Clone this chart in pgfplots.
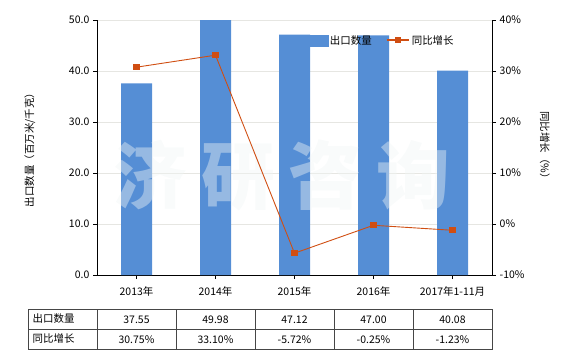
\documentclass[border=0pt]{standalone}
\usepackage{pgfplots}
\pgfplotsset{compat=1.18}
\usepackage{fontspec}
\setmainfont{Noto Sans CJK SC}
\definecolor{barblue}{RGB}{85,142,213}
\definecolor{lineor}{RGB}{208,78,18}
\definecolor{gridc}{RGB}{230,230,226}
\definecolor{tabc}{RGB}{70,70,70}
\definecolor{wmc}{RGB}{240,245,245}
\begin{document}
\fontsize{10.5}{12}\selectfont
\begin{tikzpicture}[x=1bp,y=1bp]
\useasboundingbox (0,0) rectangle (580,350);
\begin{axis}[at={(97bp,75bp)}, anchor=south west, scale only axis,
  width=395bp, height=255bp,
  xmin=-0.5, xmax=4.5, ymin=0, ymax=50,
  axis y line*=left, axis x line*=bottom,
  axis line style={black, line width=0.8bp},
  ytick={0,10,...,50},
  yticklabel style={/pgf/number format/.cd, fixed, fixed zerofill, precision=1, assume math mode=true},
  ymajorgrids, grid style={gridc, line width=0.6bp},
  xtick={0,...,4},
  xticklabels={2013年,2014年,2015年,2016年,2017年1-11月},
  xticklabel style={yshift=-4bp},
  tick align=outside, tick style={black, line width=0.8bp}, major tick length=4bp,
  ylabel={出口数量（百万米/千克）},
  ylabel style={at={(axis description cs:-0.17,0.5)}, anchor=center},
  ybar, bar width=31bp,
]
\addplot[fill=barblue, draw=none] coordinates {(0,37.55) (1,49.98) (2,47.12) (3,47.00) (4,40.08)};
\end{axis}
\node[text=wmc, text opacity=0.42, font=\fontsize{74}{74}\selectfont\bfseries] at (282,175) {济\hspace{14bp}研\hspace{14bp}咨\hspace{14bp}询};
\begin{axis}[at={(97bp,75bp)}, anchor=south west, scale only axis,
  width=395bp, height=255bp,
  xmin=-0.5, xmax=4.5, ymin=-10, ymax=40,
  axis y line*=right, axis x line=none,
  axis line style={black, line width=0.8bp},
  ytick={-10,0,...,40},
  yticklabel={\pgfmathprintnumber[assume math mode=true]{\tick}\%},
  tick align=outside, tick style={black, line width=0.8bp}, major tick length=4bp,
  ylabel={同比增长（\%）},
  ylabel style={at={(axis description cs:1.134,0.5)}, anchor=center, rotate=180},
  legend style={at={(0.52,0.92)}, anchor=west, legend columns=2, draw=none, fill=none,
    /tikz/every even column/.append style={column sep=12bp}},
]
\addlegendimage{legend image code/.code={\fill[barblue] (0bp,-5.5bp) rectangle (22bp,5.5bp);}}
\addlegendentry{出口数量}
\addplot[lineor, line width=0.9bp, mark=square*, mark size=2.6bp, mark options={fill=lineor},
  legend image code/.code={\draw[lineor, line width=2bp] (0bp,0bp) -- (22bp,0bp); \fill[lineor] (8.5bp,-2.5bp) rectangle (13.5bp,2.5bp);}]
  coordinates {(0,30.75) (1,33.10) (2,-5.72) (3,-0.25) (4,-1.23)};
\addlegendentry{同比增长}
\end{axis}
% data table
\begin{scope}[draw=tabc, line width=0.8bp]
\draw (28,40.6) rectangle (492,1);
\draw (28,20.5) -- (492,20.5);
\foreach \xx in {97,176,255,334,413} {\draw (\xx,40.6) -- (\xx,1);}
\end{scope}
\node[anchor=west] at (29,31) {出口数量};
\node[anchor=west] at (29,11.5) {同比增长};
\foreach \v [count=\i from 0] in {37.55,49.98,47.12,47.00,40.08} {\node at (136.5+79*\i,30) {\v};}
\foreach \v [count=\i from 0] in {30.75\%,33.10\%,-5.72\%,-0.25\%,-1.23\%} {\node at (136.5+79*\i,10.5) {\v};}
\end{tikzpicture}
\end{document}
